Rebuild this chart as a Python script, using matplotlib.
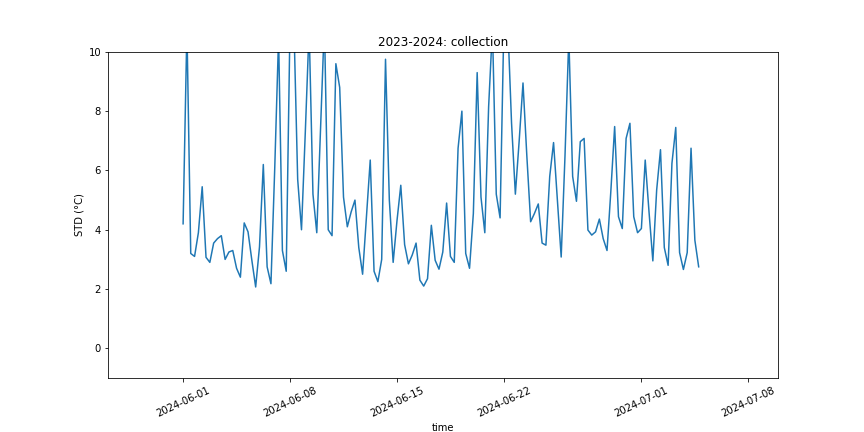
import numpy as np
import pandas as pd
import matplotlib
matplotlib.use("Agg")
import matplotlib.pyplot as plt

start = "2024-06-01 00:00"
freq = "6h"
std_values = [
    4.2, 10.8, 3.2, 3.1, 3.9, 5.45, 3.07, 2.9, 3.55, 3.7, 3.8, 3.0, 3.25, 3.3, 2.7, 2.4,
    4.23, 3.93, 2.97, 2.07, 3.42, 6.2, 2.75, 2.18, 6.1, 10.5, 3.3, 2.6, 11, 11, 5.7, 4.0,
    7.3, 10.8, 5.2, 3.9, 7.5, 11, 4.0, 3.8, 9.6, 8.8, 5.1, 4.1, 4.6, 5.0, 3.4, 2.5,
    4.4, 6.35, 2.6, 2.25, 3.0, 9.75, 5.0, 2.9, 4.3, 5.5, 3.5, 2.85, 3.15, 3.55, 2.3, 2.1,
    2.35, 4.15, 2.97, 2.67, 3.25, 4.9, 3.1, 2.9, 6.75, 8.0, 3.2, 2.7, 4.55, 9.3, 5.1, 3.9,
    8.15, 10.8, 5.2, 4.4, 11, 11, 7.6, 5.2, 7.0, 8.95, 6.5, 4.27, 4.55, 4.87, 3.55, 3.48,
    5.8, 6.94, 5.0, 3.08, 6.5, 10.5, 5.8, 4.96, 6.97, 7.08, 3.99, 3.82, 3.93, 4.36, 3.7, 3.3,
    5.3, 7.48, 4.44, 4.04, 7.08, 7.59, 4.44, 3.9, 4.04, 6.35, 4.6, 2.95, 5.34, 6.7, 3.4, 2.8,
    6.24, 7.45, 3.23, 2.66, 3.23, 6.75, 3.65, 2.75,
]
times = pd.date_range(start, periods=len(std_values), freq=freq)

fig, ax = plt.subplots(figsize=(12, 6), dpi=72)
fig.subplots_adjust(left=0.125, right=0.9, top=0.88, bottom=0.125)
ax.plot(times, std_values, color="#1f77b4")
ax.set_ylim(-1, 10)
ax.set_xlim(pd.Timestamp("2024-05-27 02:00"), pd.Timestamp("2024-07-09 22:00"))
ax.set_title("2023-2024: collection")
ax.set_xlabel("time")
ax.set_ylabel("STD (°C)")
plt.setp(ax.get_xticklabels(), rotation=25)
fig.savefig("out.png", dpi=72)
